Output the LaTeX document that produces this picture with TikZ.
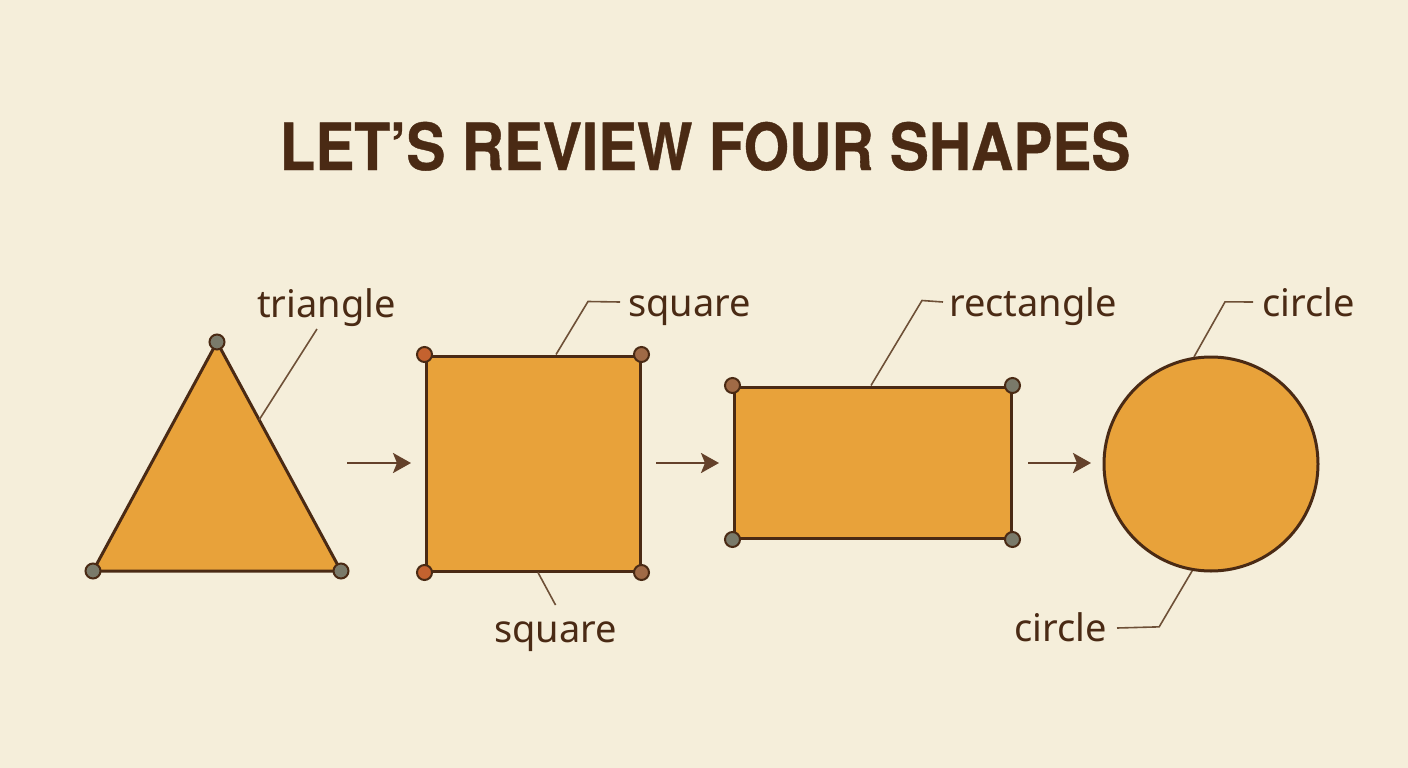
\documentclass[tikz,border=0pt]{standalone}
\usepackage{fontspec}
\setmainfont{Noto Sans}
\newfontfamily\headfont[FakeStretch=0.9,FakeBold=0.6]{TeX Gyre Heros}
\usetikzlibrary{arrows.meta,calc}

\definecolor{paper}{HTML}{F5EEDA}
\definecolor{ochre}{HTML}{E8A23A}
\definecolor{umber}{HTML}{4A2A14}
\definecolor{leadc}{HTML}{6E5037}
\definecolor{arrowc}{HTML}{64412A}
\definecolor{dotgray}{HTML}{7A7A6A}
\definecolor{dotrust}{HTML}{C4622F}
\definecolor{dotbrown}{HTML}{A06A46}

\tikzset{
	shapefill/.style={draw=umber, fill=ochre, line width=3pt, line join=round, inner sep=0pt},
	vtx/.style={circle, draw=umber, line width=2pt, minimum size=15pt, inner sep=0pt},
	lbl/.style={inner sep=0pt, text=umber, font=\fontsize{38}{40}\selectfont},
	leader/.style={draw=leadc, line width=1.6pt},
	flow/.style={draw=arrowc, line width=2.6pt, -{Stealth[length=18pt,width=20pt,inset=4pt]}},
}

\begin{document}
\begin{tikzpicture}[x=1pt,y=-1pt]
	
	\fill[paper] (0,0) rectangle (1408,768);
	\useasboundingbox (0,0) rectangle (1408,768);
	
	\node[anchor=base, inner sep=0pt, text=umber, font=\headfont\bfseries\fontsize{65}{70}\selectfont] (title) at (705,170) {LET’S REVIEW FOUR SHAPES};
	
	
	\coordinate (triT) at (217,342);
	\coordinate (triL) at (93,571);
	\coordinate (triR) at (341,571);
	\draw[shapefill] (triT) -- (triR) -- (triL) -- cycle;
	\node[vtx, fill=dotgray] (triTd) at (triT) {};
	\node[vtx, fill=dotgray] (triLd) at (triL) {};
	\node[vtx, fill=dotgray] (triRd) at (triR) {};
	\node[lbl, anchor=base west] (trilbl) at (257,317) {triangle};
	\draw[leader] ($(triT)!0.34!(triR)$) -- ($(trilbl.base west)+(60,12)$);
	
	\coordinate (a1s) at (347,463); \coordinate (a1e) at (411,463);
	\draw[flow] (a1s) -- (a1e);
	
	
	\node[shapefill, minimum width=214pt, minimum height=215pt] (sq) at (533,463.5) {};
	\node[vtx, fill=dotrust] (sqNW) at (sq.north west) {};
	\node[vtx, fill=dotbrown] (sqNE) at (sq.north east) {};
	\node[vtx, fill=dotrust] (sqSW) at (sq.south west) {};
	\node[vtx, fill=dotbrown] (sqSE) at (sq.south east) {};
	\node[lbl, anchor=base west] (sqtop) at (628,316) {square};
	\node[lbl, anchor=base west] (sqbot) at (494,642) {square};
	\draw[leader] ($(sq.north)+(23,0)$) -- ++(32,-53) -- ($(sqtop.base west)+(-8,-14)$);
	\draw[leader] ($(sq.south)+(5,0)$) -- ($(sqbot.north)+(0,-16)$);
	
	\coordinate (a2s) at (656,463); \coordinate (a2e) at (719,463);
	\draw[flow] (a2s) -- (a2e);
	
	
	\node[shapefill, minimum width=277pt, minimum height=151pt] (rc) at (872.5,462.5) {};
	\node[vtx, fill=dotbrown] (rcNW) at (rc.north west) {};
	\node[vtx, fill=dotgray] (rcNE) at (rc.north east) {};
	\node[vtx, fill=dotgray] (rcSW) at (rc.south west) {};
	\node[vtx, fill=dotgray] (rcSE) at (rc.south east) {};
	\node[lbl, anchor=base west] (rclbl) at (949,316) {rectangle};
	\draw[leader] ($(rc.north)+(-1.5,0)$) -- ++(51,-85) -- ($(rclbl.base west)+(-6,-14)$);
	
	\coordinate (a3s) at (1028,463); \coordinate (a3e) at (1091,463);
	\draw[flow] (a3s) -- (a3e);
	
	
	\node[shapefill, circle, minimum size=214pt] (circ) at (1211,464) {};
	\node[lbl, anchor=base west] (cilbl) at (1262,316) {circle};
	\node[lbl, anchor=base east] (cibot) at (1107,641) {circle};
	\draw[leader] (circ.99.5) -- ++(31,-55) -- ($(cilbl.base west)+(-9,-14)$);
	\draw[leader] (circ.260) -- ++(-33,56) -- ($(cibot.base east)+(10,-13)$);
	
\end{tikzpicture}
\end{document}
